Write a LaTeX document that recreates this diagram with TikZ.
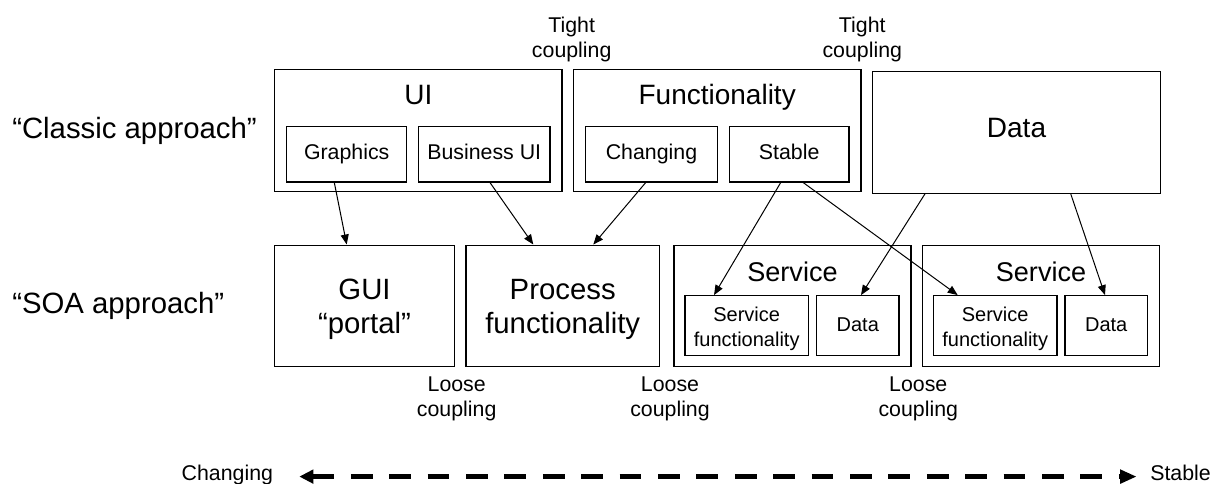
\documentclass[tikz,border=0pt]{standalone}
\usepackage{fontspec}
\setmainfont{Liberation Sans}
\usepackage{tikz}
\usetikzlibrary{positioning, calc, arrows.meta}

\begin{document}
\begin{tikzpicture}[x=0.75pt, y=-0.75pt,
        box/.style={draw, line width=0.9pt, inner sep=0pt},
        layerbox/.style={box, minimum width=215.6pt, minimum height=91.5pt},
        soabox/.style={box, minimum height=91.3pt},
        partbox/.style={box, minimum height=41.5pt, font=\fontsize{16}{19}\selectfont, text height=0.82em, text depth=0pt},
        subbox/.style={box, minimum height=45pt},
        bigtext/.style={inner sep=0pt, align=center, font=\fontsize{21}{25.5}\selectfont},
        coupling/.style={inner sep=0pt, align=center, font=\fontsize{16}{18.75}\selectfont},
        endtext/.style={inner sep=0pt, font=\fontsize{16}{19}\selectfont, text height=0.72em, text depth=0.21em},
        link/.style={-{Triangle[length=7.5pt, width=6pt]}, line width=0.75pt},
        trend/.style={{Triangle[length=10.5pt, width=10pt]}-{Triangle[length=12.5pt, width=10pt]},
            line width=3.75pt, dash pattern=on 16.3pt off 12.5pt, shorten <=19.5pt, shorten >=10pt}]
    \useasboundingbox (0, 0) rectangle (1217, 484);

    % classic layers
    \node [layerbox] (UI) at (418.3, 130.5) {};
    \node [layerbox] (Func) at (717.2, 130.5) {};
    \node [layerbox, font=\fontsize{21}{25.5}\selectfont, text height=0.82em, text depth=0pt] (Data) at (1016.5, 132.2) {Data};
    \node [bigtext, anchor=base] (UIt) at (418.3, 105) {UI};
    \node [bigtext, anchor=base] (Funct) at (717.2, 105) {Functionality};
    \node [partbox, minimum width=90pt] (Gfx) at (346.7, 154.3) {Graphics};
    \node [partbox, minimum width=98.8pt] (BUI) at (484.2, 154.3) {Business UI};
    \node [partbox, minimum width=98.7pt] (Chg) at (651.5, 154.3) {Changing};
    \node [partbox, minimum width=89.8pt] (Stb) at (789.2, 154.3) {Stable};

    % soa layers
    \node [soabox, minimum width=134.7pt] (GUI) at (364.5, 306) {};
    \node [soabox, minimum width=145pt] (Proc) at (562.7, 306) {};
    \node [soabox, minimum width=177.8pt] (Srv1) at (792.5, 306) {};
    \node [soabox, minimum width=177.5pt] (Srv2) at (1041, 306) {};
    \node [bigtext, font=\fontsize{22}{25.5}\selectfont] (GUIt) at (364.5, 309.6) {GUI\\“portal”};
    \node [bigtext, font=\fontsize{22}{25.5}\selectfont] (Proct) at (562.7, 309.6) {Process\\functionality};
    \node [bigtext, font=\fontsize{20.3}{25}\selectfont, anchor=base] (Srv1t) at (792.5, 281.7) {Service};
    \node [bigtext, font=\fontsize{20.3}{25}\selectfont, anchor=base] (Srv2t) at (1041, 281.7) {Service};
    \node [subbox, minimum width=92.6pt] (SF1) at (746.7, 325.7) {};
    \node [subbox, minimum width=92.6pt] (SF2) at (995.2, 325.7) {};
    \node [coupling, font=\fontsize{15}{18.75}\selectfont] (SF1t) at (746.7, 329.1) {Service\\functionality};
    \node [coupling, font=\fontsize{15}{18.75}\selectfont] (SF2t) at (995.2, 329.1) {Service\\functionality};
    \node [subbox, minimum width=61.7pt, font=\fontsize{15}{18}\selectfont, text height=0.82em, text depth=0pt] (SD1) at (857.8, 325.7) {Data};
    \node [subbox, minimum width=61.7pt, font=\fontsize{15}{18}\selectfont, text height=0.82em, text depth=0pt] (SD2) at (1106.2, 325.7) {Data};

    % row captions and coupling notes
    \node [bigtext, font=\fontsize{22}{26}\selectfont, anchor=base west] (Classic) at (12, 138.3) {“Classic approach”};
    \node [bigtext, font=\fontsize{22}{26}\selectfont, anchor=base west] (SOA) at (12, 313.3) {“SOA approach”};
    \node [coupling] (T1) at (571.7, 39.4) {Tight\\coupling};
    \node [coupling] (T2) at (862.3, 39.4) {Tight\\coupling};
    \node [coupling] (L1) at (456.7, 398.7) {Loose\\coupling};
    \node [coupling] (L2) at (670, 398.7) {Loose\\coupling};
    \node [coupling] (L3) at (918.3, 398.7) {Loose\\coupling};

    \draw [link] ($(Gfx.south)+(-12.4, 0)$) -- ($(GUI.north)+(-17.8, 0)$);
    \draw [link] ($(BUI.south)+(5.8, 0)$) -- ($(Proc.north)+(-29.4, 0)$);
    \draw [link] ($(Chg.south)+(-5.8, 0)$) -- ($(Proc.north)+(30.6, 0)$);
    \draw [link] ($(Stb.south)+(-8.5, 0)$) -- ($(SF1.north)+(-32.7, 0)$);
    \draw [link] ($(Stb.south)+(14, 0)$) -- ($(SF2.north)+(-37.5, 0)$);
    \draw [link] ($(Data.south)+(-91.5, 0)$) -- ($(SD1.north)+(3.2, 0)$);
    \draw [link] ($(Data.south)+(54.2, 0)$) -- ($(SD2.north)+(-1.2, 0)$);

    % changing -> stable scale
    \node [endtext, anchor=base east] (ChgL) at (273.3, 480) {Changing};
    \node [endtext, anchor=base west] (StbL) at (1150, 480) {Stable};
    \draw [trend] (ChgL) -- (StbL);
\end{tikzpicture}
\end{document}
